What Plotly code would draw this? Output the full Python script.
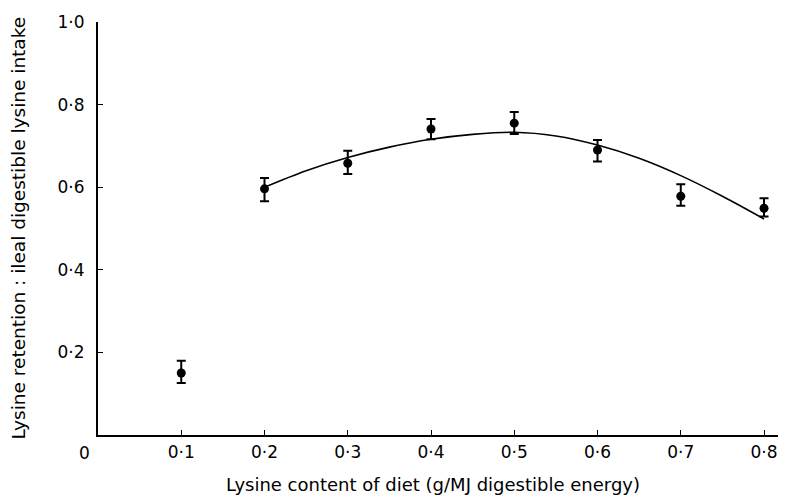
import plotly.graph_objects as go

# Measured points
lysine = [0.1, 0.2, 0.3, 0.4, 0.5, 0.6, 0.7, 0.8]
retention = [0.150, 0.596, 0.658, 0.741, 0.755, 0.690, 0.578, 0.549]
err_plus = [0.030, 0.026, 0.030, 0.024, 0.027, 0.024, 0.029, 0.024]
err_minus = [0.024, 0.030, 0.026, 0.025, 0.026, 0.028, 0.023, 0.020]

# Fitted curve
curve_x = [0.20, 0.25, 0.30, 0.35, 0.40, 0.45, 0.50, 0.55, 0.60, 0.65, 0.70, 0.75, 0.80]
curve_y = [0.600, 0.640, 0.672, 0.697, 0.716, 0.728, 0.733, 0.724, 0.702, 0.670, 0.628, 0.578, 0.523]

x_ticks = [0.1, 0.2, 0.3, 0.4, 0.5, 0.6, 0.7, 0.8]
x_tick_labels = ["0·1", "0·2", "0·3", "0·4", "0·5", "0·6", "0·7", "0·8"]
y_ticks = [0.2, 0.4, 0.6, 0.8, 1.0]
y_tick_labels = ["0·2", "0·4", "0·6", "0·8", "1·0"]

x_title = "Lysine content of diet (g/MJ digestible energy)"
y_title = "Lysine retention : ileal digestible lysine intake"

FONT = "DejaVu Sans"

fig = go.Figure()
fig.add_trace(go.Scatter(
    x=curve_x, y=curve_y, mode="lines", line=dict(color="black", width=1.6, shape="spline"),
    hoverinfo="skip", showlegend=False))
fig.add_trace(go.Scatter(
    x=lysine, y=retention, mode="markers",
    marker=dict(color="black", size=9),
    error_y=dict(type="data", symmetric=False, array=err_plus, arrayminus=err_minus,
                 color="black", thickness=2, width=4.5),
    showlegend=False))

fig.add_annotation(x=0, y=0, xref="x", yref="y", text="0", showarrow=False,
                   xanchor="center", yanchor="middle", xshift=-14, yshift=-18,
                   font=dict(family=FONT, size=17, color="black"))
fig.add_annotation(x=0.5, y=0, xref="paper", yref="paper", text=x_title, showarrow=False,
                   xanchor="center", yanchor="middle", xshift=-8, yshift=-49,
                   font=dict(family=FONT, size=18, color="black"))
fig.add_annotation(x=0, y=0.5, xref="paper", yref="paper", text=y_title, showarrow=False,
                   textangle=-90, xanchor="center", yanchor="middle", xshift=-80,
                   font=dict(family=FONT, size=18.5, color="black"))

fig.update_layout(
    width=786, height=499,
    margin=dict(l=90, r=10, t=14, b=72),
    paper_bgcolor="white", plot_bgcolor="white",
    font=dict(family=FONT, size=17, color="black"),
    xaxis=dict(range=[0, 0.824], tickvals=x_ticks, ticktext=x_tick_labels,
               showline=True, linecolor="black", linewidth=2, ticks="inside",
               ticklen=5, tickcolor="black", showgrid=False, zeroline=False,
               tickfont=dict(size=17), automargin=False, ticklabelstandoff=1),
    yaxis=dict(range=[0, 1.0], tickvals=y_ticks, ticktext=y_tick_labels,
               showline=True, linecolor="black", linewidth=2, ticks="inside",
               ticklen=5, tickcolor="black", showgrid=False, zeroline=False,
               tickfont=dict(size=17), automargin=False, ticklabelstandoff=8),
)

fig.write_html("out.html")
